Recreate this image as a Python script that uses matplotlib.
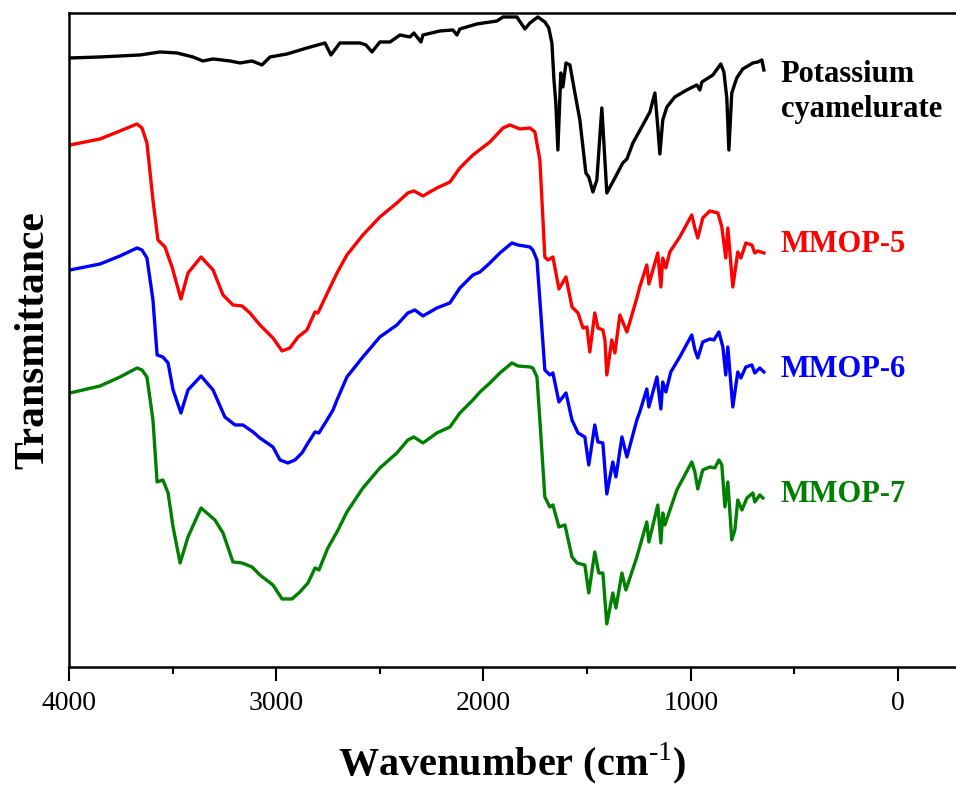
import matplotlib
matplotlib.use("Agg")
import matplotlib.pyplot as plt
from matplotlib.ticker import MultipleLocator

plt.rcParams['font.family'] = ['Liberation Serif', 'DejaVu Serif']
plt.rcParams['mathtext.fontset'] = 'custom'
plt.rcParams['mathtext.rm'] = 'Liberation Serif'
plt.rcParams['mathtext.bf'] = 'Liberation Serif:bold'

# (wavenumber cm-1, transmittance a.u.)
potassium = [
    (3995, 6.09), (3850, 6.10), (3657, 6.12), (3561, 6.15), (3479, 6.14), (3402, 6.10),
    (3354, 6.06), (3305, 6.08), (3223, 6.06), (3175, 6.04), (3117, 6.06), (3069, 6.02),
    (3030, 6.10), (2948, 6.13), (2852, 6.19), (2765, 6.24), (2736, 6.12), (2693, 6.24),
    (2596, 6.24), (2567, 6.22), (2538, 6.15), (2500, 6.25), (2451, 6.25), (2403, 6.32),
    (2355, 6.30), (2336, 6.34), (2302, 6.25), (2292, 6.32), (2210, 6.36), (2148, 6.37),
    (2128, 6.32), (2114, 6.38), (2032, 6.43), (1935, 6.46), (1906, 6.50), (1839, 6.50),
    (1800, 6.38), (1776, 6.44), (1738, 6.50), (1704, 6.45), (1685, 6.39), (1670, 6.24),
    (1660, 5.87), (1651, 5.64), (1641, 5.17), (1627, 5.94), (1617, 5.80), (1602, 6.04),
    (1583, 6.02), (1559, 5.74), (1535, 5.47), (1506, 4.94), (1492, 4.90), (1472, 4.75),
    (1453, 4.87), (1429, 5.59), (1419, 5.24), (1405, 4.74), (1366, 4.89), (1328, 5.04),
    (1308, 5.08), (1279, 5.24), (1231, 5.42), (1197, 5.55), (1173, 5.74), (1159, 5.40),
    (1149, 5.13), (1135, 5.47), (1115, 5.60), (1077, 5.70), (1019, 5.77), (971, 5.82),
    (956, 5.77), (946, 5.85), (893, 5.92), (855, 6.03), (840, 5.95), (826, 5.69),
    (816, 5.17), (802, 5.74), (778, 5.89), (749, 5.98), (700, 6.04), (676, 6.05),
    (657, 6.07), (647, 5.97),
]

mmop5 = [
    (3995, 5.22), (3850, 5.28), (3754, 5.36), (3672, 5.43), (3648, 5.39), (3624, 5.24),
    (3595, 4.67), (3571, 4.27), (3537, 4.20), (3503, 4.00), (3460, 3.68), (3426, 3.94),
    (3363, 4.10), (3305, 3.97), (3257, 3.72), (3209, 3.62), (3165, 3.61), (3127, 3.54),
    (3079, 3.42), (3016, 3.29), (2972, 3.16), (2934, 3.19), (2895, 3.30), (2852, 3.37),
    (2813, 3.55), (2799, 3.54), (2751, 3.75), (2707, 3.94), (2659, 4.12), (2582, 4.32),
    (2500, 4.50), (2418, 4.64), (2365, 4.74), (2336, 4.76), (2292, 4.71), (2225, 4.79),
    (2162, 4.85), (2114, 4.99), (2051, 5.12), (1969, 5.25), (1906, 5.39), (1873, 5.42),
    (1824, 5.38), (1776, 5.39), (1752, 5.35), (1728, 5.07), (1718, 4.67), (1704, 4.10),
    (1689, 4.07), (1665, 4.10), (1636, 3.78), (1602, 3.90), (1573, 3.60), (1544, 3.54),
    (1520, 3.39), (1501, 3.40), (1487, 3.15), (1463, 3.54), (1448, 3.39), (1424, 3.37),
    (1414, 3.27), (1405, 2.92), (1381, 3.27), (1366, 3.14), (1342, 3.52), (1328, 3.45),
    (1308, 3.35), (1260, 3.69), (1246, 3.80), (1212, 4.02), (1202, 3.83), (1159, 4.14),
    (1144, 3.80), (1135, 4.09), (1120, 3.99), (1101, 4.15), (1053, 4.30), (995, 4.52),
    (980, 4.39), (966, 4.29), (942, 4.49), (908, 4.56), (869, 4.54), (850, 4.40),
    (831, 4.09), (821, 4.39), (797, 3.80), (773, 4.15), (758, 4.09), (734, 4.24),
    (705, 4.22), (691, 4.14), (676, 4.16), (647, 4.14),
]

mmop6 = [
    (3995, 3.97), (3850, 4.03), (3754, 4.11), (3672, 4.19), (3648, 4.17), (3624, 4.09),
    (3595, 3.67), (3575, 3.12), (3547, 3.10), (3522, 3.04), (3498, 2.77), (3460, 2.54),
    (3426, 2.77), (3363, 2.91), (3305, 2.77), (3248, 2.50), (3199, 2.42), (3161, 2.42),
    (3112, 2.35), (3079, 2.29), (3016, 2.20), (2982, 2.07), (2944, 2.04), (2910, 2.07),
    (2876, 2.14), (2847, 2.24), (2813, 2.35), (2794, 2.34), (2755, 2.47), (2726, 2.57),
    (2707, 2.67), (2659, 2.90), (2582, 3.10), (2500, 3.30), (2418, 3.42), (2365, 3.54),
    (2331, 3.57), (2292, 3.51), (2225, 3.59), (2162, 3.64), (2114, 3.79), (2051, 3.92),
    (2017, 3.95), (1969, 4.04), (1921, 4.14), (1863, 4.24), (1834, 4.22), (1776, 4.20),
    (1762, 4.17), (1742, 4.07), (1728, 3.67), (1704, 2.97), (1680, 2.92), (1665, 2.94),
    (1636, 2.65), (1602, 2.74), (1573, 2.47), (1544, 2.34), (1511, 2.30), (1492, 2.02),
    (1463, 2.42), (1448, 2.25), (1424, 2.24), (1405, 1.73), (1376, 2.05), (1361, 1.90),
    (1332, 2.30), (1308, 2.10), (1260, 2.47), (1246, 2.55), (1212, 2.78), (1202, 2.60),
    (1163, 2.90), (1144, 2.58), (1135, 2.85), (1120, 2.75), (1096, 2.95), (1053, 3.10),
    (995, 3.32), (980, 3.17), (966, 3.09), (942, 3.25), (908, 3.28), (888, 3.27),
    (864, 3.35), (845, 3.20), (831, 2.92), (821, 3.20), (797, 2.60), (773, 2.95),
    (758, 2.89), (734, 3.00), (705, 3.02), (691, 2.94), (667, 2.99), (647, 2.95),
]

mmop7 = [
    (3995, 2.74), (3850, 2.81), (3754, 2.90), (3672, 2.99), (3648, 2.97), (3624, 2.90),
    (3595, 2.47), (3575, 1.85), (3547, 1.87), (3522, 1.74), (3498, 1.40), (3464, 1.04),
    (3426, 1.30), (3363, 1.59), (3296, 1.47), (3257, 1.34), (3209, 1.05), (3165, 1.04),
    (3117, 1.00), (3079, 0.92), (3016, 0.82), (2972, 0.68), (2924, 0.68), (2886, 0.75),
    (2847, 0.84), (2813, 0.99), (2794, 0.97), (2751, 1.19), (2707, 1.35), (2659, 1.55),
    (2582, 1.79), (2500, 1.99), (2418, 2.14), (2365, 2.27), (2336, 2.30), (2292, 2.24),
    (2225, 2.34), (2162, 2.40), (2114, 2.54), (2051, 2.67), (2017, 2.75), (1969, 2.84),
    (1921, 2.94), (1863, 3.04), (1834, 3.01), (1776, 3.00), (1762, 2.99), (1742, 2.90),
    (1728, 2.47), (1704, 1.70), (1680, 1.60), (1665, 1.62), (1636, 1.40), (1607, 1.42),
    (1573, 1.10), (1549, 1.04), (1511, 1.02), (1492, 0.74), (1463, 1.15), (1444, 0.94),
    (1424, 0.94), (1405, 0.43), (1376, 0.74), (1361, 0.59), (1332, 0.94), (1313, 0.77),
    (1260, 1.10), (1212, 1.45), (1202, 1.25), (1159, 1.62), (1144, 1.24), (1135, 1.54),
    (1125, 1.42), (1067, 1.77), (995, 2.05), (980, 1.95), (966, 1.78), (942, 1.97),
    (908, 2.00), (884, 1.99), (864, 2.07), (850, 2.02), (835, 1.60), (821, 1.85),
    (802, 1.27), (787, 1.37), (773, 1.67), (753, 1.57), (729, 1.69), (700, 1.74),
    (691, 1.65), (667, 1.72), (652, 1.69),
]

series = [
    (potassium, 'black', 'Potassium\ncyamelurate', 5.75),
    (mmop5, '#ff0000', 'MMOP-5', 4.22),
    (mmop6, '#0000ff', 'MMOP-6', 2.97),
    (mmop7, '#008000', 'MMOP-7', 1.72),
]

fig = plt.figure(figsize=(9.56, 7.91), dpi=100)
ax = fig.add_axes([0.0722, 0.1568, 0.9278, 0.8268])

for data, color, label, ylab in series:
    wn = [p[0] for p in data]
    t = [p[1] for p in data]
    ax.plot(wn, t, color=color, lw=2.4, solid_joinstyle='round')
    ax.text(565, ylab, label, color=color, fontsize=22, fontweight='bold',
            ha='left', va='center', linespacing=1.25)

ax.set_xlim(4000, -280)
ax.set_ylim(0, 6.54)
ax.xaxis.set_major_locator(MultipleLocator(1000))
ax.xaxis.set_minor_locator(MultipleLocator(500))
ax.tick_params(axis='x', which='major', direction='out', length=10, width=1.5,
               labelsize=20, pad=7)
ax.tick_params(axis='x', which='minor', direction='out', length=5, width=1.5)
ax.tick_params(axis='x', top=False)
ax.set_yticks([])
for s in ['left', 'bottom', 'top']:
    ax.spines[s].set_linewidth(1.8)
ax.spines['right'].set_visible(False)

ax.set_xlabel(r'Wavenumber (cm$^{\text{-1}}$)', fontsize=29, fontweight='bold',
              labelpad=18)
ax.set_ylabel('Transmittance', fontsize=30, fontweight='bold', labelpad=12)

fig.savefig('out.png', dpi=100)
